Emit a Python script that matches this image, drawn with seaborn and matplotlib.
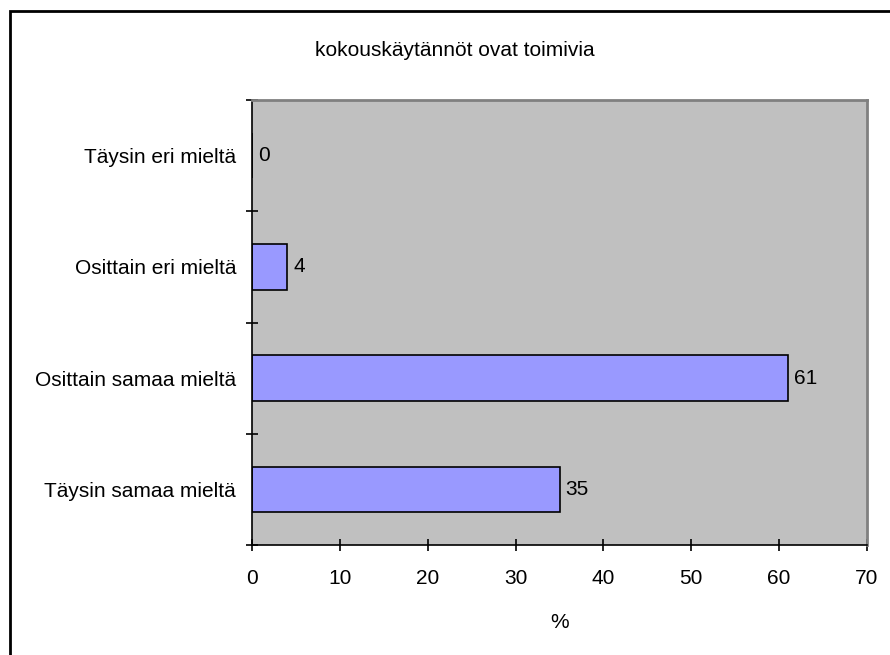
import matplotlib
matplotlib.use("Agg")
import matplotlib.pyplot as plt
from matplotlib.patches import Rectangle
import seaborn as sns
import pandas as pd

title = "kokouskäytännöt ovat toimivia"
categories = ["Täysin eri mieltä", "Osittain eri mieltä", "Osittain samaa mieltä", "Täysin samaa mieltä"]
percent = [0, 4, 61, 35]
x_ticks = [0, 10, 20, 30, 40, 50, 60, 70]
x_label = "%"

FS = 15

sns.set_style("white")
plt.rcParams["font.family"] = ["Liberation Sans", "DejaVu Sans"]
plt.rcParams["font.size"] = FS
plt.rcParams["text.color"] = "black"

df = pd.DataFrame({"kategoria": categories, "prosentti": percent})

fig = plt.figure(figsize=(8.9, 6.55), dpi=100)
fig.patch.set_facecolor("white")
ax = fig.add_axes([252 / 890, 1 - 545 / 655, (867 - 252) / 890, (545 - 100) / 655])
ax.set_facecolor("#C0C0C0")

sns.barplot(data=df, x="prosentti", y="kategoria", order=categories, orient="h",
            color="#9999FF", saturation=1, edgecolor="black", linewidth=1.2,
            width=0.41, ax=ax)

ax.set_xlim(x_ticks[0], x_ticks[-1])
ax.set_ylim(len(categories) - 0.5, -0.5)
ax.set_xticks(x_ticks)
ax.set_xticklabels([str(t) for t in x_ticks])

# category names at bar centres, tick marks at category boundaries
ax.set_yticks(range(len(categories)))
ax.set_yticklabels(categories)
ax.set_yticks([i - 0.5 for i in range(len(categories) + 1)], minor=True)
ax.tick_params(axis="y", which="both", left=True)
ax.tick_params(axis="x", which="both", bottom=True)
ax.tick_params(axis="y", which="major", length=0, pad=11.5)
ax.tick_params(axis="y", which="minor", direction="inout", length=9, width=1.2, color="black")
ax.tick_params(axis="x", which="major", direction="inout", length=9, width=1.2, color="black", pad=12.5)
ax.tick_params(labelsize=FS, labelcolor="black")

ax.set_xlabel(x_label, fontsize=FS, labelpad=18, color="black")
ax.set_ylabel("")

for side in ("left", "bottom"):
    ax.spines[side].set_color("black")
    ax.spines[side].set_linewidth(1.2)
for side in ("top", "right"):
    ax.spines[side].set_visible(True)
    ax.spines[side].set_color("#808080")
    ax.spines[side].set_linewidth(2)

for container in ax.containers:
    ax.bar_label(container, labels=[str(v) for v in percent], padding=4.5,
                 fontsize=FS, color="black")

fig.text(455 / 890, 1 - 51 / 655, title, ha="center", va="center", fontsize=FS, color="black")

# outer frame of the chart area
fig.patches.append(Rectangle((10 / 890, -0.05), 1.0, 1 - 11 / 655 + 0.05,
                             transform=fig.transFigure, fill=False,
                             edgecolor="black", linewidth=2, figure=fig))

fig.savefig("out.png", dpi=100)
